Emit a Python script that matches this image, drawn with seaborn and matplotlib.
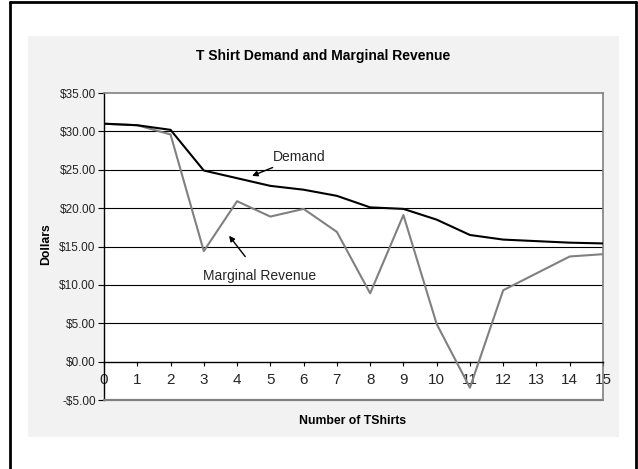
import matplotlib
matplotlib.use("Agg")
import matplotlib.pyplot as plt
import seaborn as sns
import pandas as pd
from matplotlib.patches import Rectangle
from matplotlib.lines import Line2D

tshirts = list(range(16))
demand = [31.0, 30.8, 30.2, 24.9, 23.9, 22.9, 22.4, 21.6, 20.1, 19.9, 18.5, 16.5, 15.9, 15.7, 15.5, 15.4]
marginal_revenue = [31.0, 30.8, 29.6, 14.4, 20.9, 18.9, 19.9, 16.9, 8.9, 19.1, 4.9, -3.4, 9.3, 11.5, 13.7, 14.0]
y_ticks = [-5, 0, 5, 10, 15, 20, 25, 30, 35]
y_tick_labels = ["-$5.00", "$0.00", "$5.00", "$10.00", "$15.00", "$20.00", "$25.00", "$30.00", "$35.00"]

sns.set_theme(style="white")
plt.rcParams['font.family'] = ['Liberation Sans', 'DejaVu Sans']

df = pd.DataFrame({"x": tshirts, "Demand": demand, "Marginal Revenue": marginal_revenue})

fig = plt.figure(figsize=(6.38, 4.69), dpi=100)
fig.patch.set_facecolor("white")

# gray chart area
fig.patches.append(Rectangle((28/638, 1-437/469), (619-28)/638, (437-36)/469,
                             transform=fig.transFigure, facecolor="#f2f2f2", edgecolor="none", zorder=-10))
# outer black border
for xs, ys in [([9.5/638, 9.5/638], [0, 1-2.5/469]),
               ([9.5/638, 635.5/638], [1-2.5/469, 1-2.5/469]),
               ([635.5/638, 635.5/638], [0, 1-2.5/469])]:
    fig.lines.append(Line2D(xs, ys, transform=fig.transFigure, color="black", lw=2.0, zorder=-5))

ax = fig.add_axes([104/638, 1-400/469, (603-104)/638, (400-93)/469])
ax.set_zorder(5)
ax.set_facecolor("white")

for yv in [5, 10, 15, 20, 25, 30]:
    ax.axhline(yv, color="black", lw=0.8, zorder=1)

sns.lineplot(data=df, x="x", y="Marginal Revenue", ax=ax, color="#808080", lw=1.5, zorder=3)
sns.lineplot(data=df, x="x", y="Demand", ax=ax, color="black", lw=1.5, zorder=4)

ax.set_xlim(0, 15)
ax.set_ylim(-5, 35)
ax.set_yticks(y_ticks)
ax.set_yticklabels(y_tick_labels, fontsize=8.5, color="#222222")
ax.set_xticks(tshirts)
ax.set_xticklabels([str(t) for t in tshirts], fontsize=8, color="#222222")

for s in ["top", "right"]:
    ax.spines[s].set_color("#808080")
    ax.spines[s].set_linewidth(1.2)
ax.spines["left"].set_color("black")
ax.spines["left"].set_linewidth(1.0)
ax.spines["bottom"].set_position(("data", 0))
ax.spines["bottom"].set_color("black")
ax.spines["bottom"].set_linewidth(1.0)
ax.axhline(-5, color="#808080", lw=1.6, zorder=5, clip_on=False)

ax.tick_params(axis="y", direction="out", length=4, width=0.8, color="black", pad=2, left=True)
ax.tick_params(axis="x", direction="out", length=3, width=0.8, color="black", pad=5, bottom=True)

ax.set_xlabel("")
ax.set_ylabel("")

fig.text(323.5/638, 1-56/469, "T Shirt Demand and Marginal Revenue", ha="center", va="center",
         fontsize=10, fontweight="bold", color="black")
fig.text(353/638, 1-421/469, "Number of TShirts", ha="center", va="center",
         fontsize=8.8, fontweight="bold", color="black")
fig.text(46/638, 1-244/469, "Dollars", ha="center", va="center", rotation=90,
         fontsize=8.8, fontweight="bold", color="black")

ax.annotate("Demand", xy=(4.45, 24.2), xytext=(5.08, 26.7), fontsize=10, ha="left", va="center",
            arrowprops=dict(arrowstyle="-|>", color="black", lw=1.0, mutation_scale=8, shrinkA=1, shrinkB=0))
ax.annotate("Marginal Revenue", xy=(3.76, 16.4), xytext=(4.69, 11.2), fontsize=10, ha="center", va="center",
            arrowprops=dict(arrowstyle="-|>", color="black", lw=1.0, mutation_scale=8, shrinkA=8, shrinkB=0))

fig.savefig("out.png", dpi=100)
